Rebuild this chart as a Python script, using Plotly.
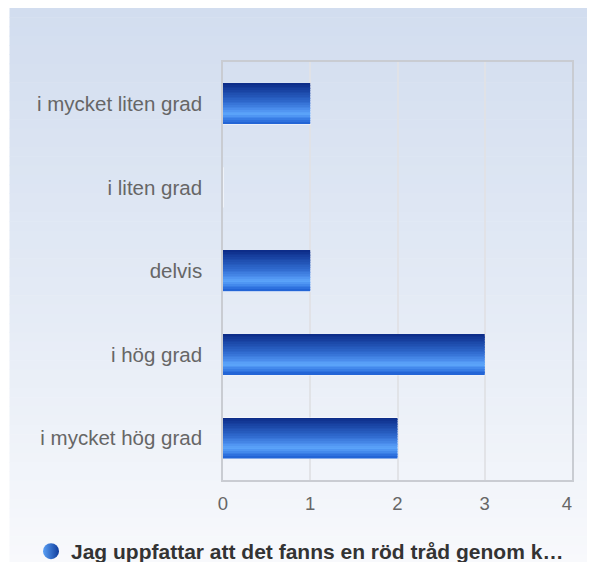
import plotly.graph_objects as go

# ---- data ----
categories = ["i mycket liten grad", "i liten grad", "delvis", "i hög grad", "i mycket hög grad"]
values = [1, 0, 1, 3, 2]
series_name = "Jag uppfattar att det fanns en röd tråd genom k…"
x_ticks = [0, 1, 2, 3, 4]
x_tick_labels = ["0", "1", "2", "3", "4\u00a0\u00a0"]

# ---- style helpers ----
W, H = 587, 554          # page has an 8px body margin -> fills the 595x562 window
L, R, T, B = 215, 23, 54, 82
PW, PH = W - L - R, H - T - B


def px_x(p):
    return (p - L) / PW


def px_y(p):
    return (H - B - p) / PH


def hex2rgb(h):
    h = h.lstrip("#")
    return tuple(int(h[i:i + 2], 16) for i in (0, 2, 4))


def interp(stops, t):
    for (t0, c0), (t1, c1) in zip(stops, stops[1:]):
        if t0 <= t <= t1:
            f = 0 if t1 == t0 else (t - t0) / (t1 - t0)
            a, b = hex2rgb(c0), hex2rgb(c1)
            return "rgb(%d,%d,%d)" % tuple(round(a[k] + (b[k] - a[k]) * f) for k in range(3))
    return stops[-1][1]


bar_stops = [(0.0, "#0b2a86"), (0.15, "#163f9e"), (0.45, "#2e68cc"), (0.65, "#4b8ded"),
             (0.76, "#5da6fb"), (0.87, "#3f84ea"), (1.0, "#1e5fd2")]
bg_stops = [(0.0, "#d2ddef"), (0.5, "#e3eaf5"), (1.0, "#f8f9fc")]

fig = go.Figure()

BW = 0.48
N = 24
# base bar with light outline
fig.add_trace(go.Bar(y=categories, x=values, orientation="h", width=BW,
                     marker=dict(color="#2e68cc", line=dict(color="rgba(255,255,255,0.9)", width=1.2)),
                     showlegend=False, hoverinfo="skip"))
for i in range(N):
    t = (i + 0.5) / N
    fig.add_trace(go.Bar(y=categories, x=values, orientation="h",
                         width=BW / N * 1.15, offset=-BW / 2 + i * BW / N,
                         marker=dict(color=interp(bar_stops, t), line=dict(width=0)),
                         showlegend=False, hoverinfo="skip"))

# legend entry
fig.add_trace(go.Scatter(x=[None], y=[None], mode="markers", name=series_name,
                         marker=dict(symbol="circle", size=20, color="#5aa0f5",
                                     gradient=dict(type="horizontal", color="#0f3c9c"),
                                     line=dict(width=0))))

# background panel gradient
shapes = []
NS = 60
top_px, bot_px = 0, H + 2
for i in range(NS):
    y0 = top_px + (bot_px - top_px) * i / NS
    y1 = top_px + (bot_px - top_px) * (i + 1) / NS + 0.6
    shapes.append(dict(type="rect", xref="paper", yref="paper", layer="below",
                       x0=px_x(1.5), x1=px_x(W + 2), y0=px_y(y0), y1=px_y(y1),
                       fillcolor=interp(bg_stops, (i + 0.5) / NS), line=dict(width=0)))

fig.update_layout(
    width=W, height=H,
    margin=dict(l=L, r=R, t=T, b=B, pad=0, autoexpand=False),
    paper_bgcolor="white", plot_bgcolor="rgba(0,0,0,0)",
    barmode="overlay",
    shapes=shapes,
    font=dict(family="Liberation Sans, Arial, sans-serif"),
    showlegend=True,
    legend=dict(orientation="h", x=px_x(23), xanchor="left", y=px_y(523), yanchor="top",
                font=dict(size=21, color="#333333", weight="bold"),
                bgcolor="rgba(0,0,0,0)", itemsizing="trace"),
    xaxis=dict(range=[0, 4], tickvals=x_ticks, ticktext=x_tick_labels, showgrid=True,
               gridcolor="rgba(224,226,230,0.95)",
               gridwidth=2, zeroline=False, showline=True, linecolor="#c9ccd2", linewidth=1.5,
               mirror=True, ticks="outside", ticklen=6, tickcolor="rgba(0,0,0,0)",
               tickfont=dict(size=18.5, color="#666666"), fixedrange=True),
    yaxis=dict(categoryorder="array", categoryarray=categories, autorange="reversed",
               showgrid=False, zeroline=False, showline=True, linecolor="#c9ccd2", linewidth=1.5,
               mirror=True, ticks="outside", ticklen=15, tickcolor="rgba(0,0,0,0)",
               tickfont=dict(size=20.5, color="#666666"), fixedrange=True),
)

fig.write_html("out.html")
